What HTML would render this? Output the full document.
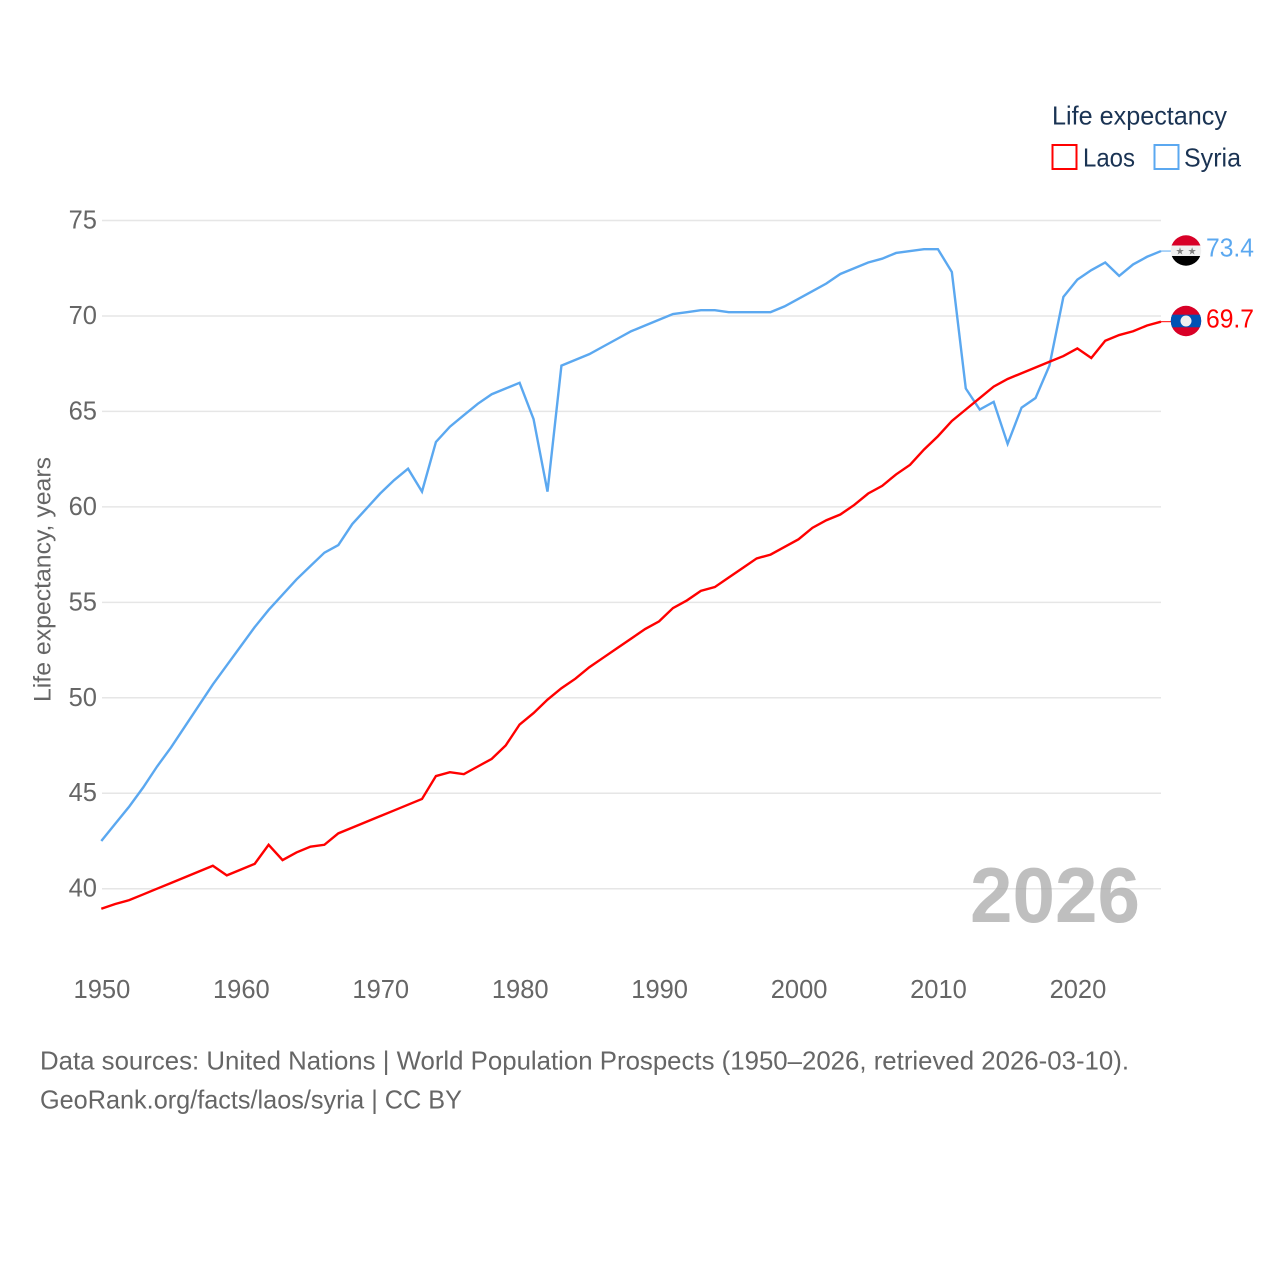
<!DOCTYPE html>
<html lang="en">
<head>
<meta charset="utf-8">
<title>Life expectancy: Laos and Syria</title>
<style>
html,body{margin:0;padding:0;background:#fff;width:1280px;height:1280px;overflow:hidden}
svg{display:block}
text{font-family:"Liberation Sans",sans-serif;fill:#666}
</style>
</head>
<body>
<svg id="chart" xmlns="http://www.w3.org/2000/svg" width="1280" height="1280" viewBox="0 0 1280 1280">
  <defs>
    <clipPath id="syria-clip"><circle cx="1186" cy="250.5" r="15.2"/></clipPath>
    <clipPath id="laos-clip"><circle cx="1186" cy="321" r="15.2"/></clipPath>
  </defs>
  <g id="grid"></g>
  <g id="yticks"></g>
  <g id="xticks"></g>
  <text x="970" y="922" font-size="78" font-weight="bold" textLength="170" lengthAdjust="spacingAndGlyphs" style="fill:#a6a6a6;fill-opacity:.72">2026</text>
  <g id="series"></g>

  <text transform="translate(50.5,702) rotate(-90)" font-size="24.5" textLength="245" lengthAdjust="spacingAndGlyphs">Life expectancy, years</text>

  <g>
    <text x="1052" y="124.5" font-size="26" textLength="175" lengthAdjust="spacingAndGlyphs" style="fill:#1a3353">Life expectancy</text>
    <g>
      <rect x="1052.5" y="145" width="24" height="24" fill="none" stroke="#ff0000" stroke-width="2"/>
      <text x="1083" y="166.5" font-size="26" textLength="52" lengthAdjust="spacingAndGlyphs" style="fill:#1a3353">Laos</text>
    </g>
    <g>
      <rect x="1154.5" y="145" width="24" height="24" fill="none" stroke="#5ba8f0" stroke-width="2"/>
      <text x="1184" y="166.5" font-size="26" textLength="57" lengthAdjust="spacingAndGlyphs" style="fill:#1a3353">Syria</text>
    </g>
  </g>

  <g clip-path="url(#syria-clip)">
    <rect x="1170" y="235" width="32" height="11" fill="#d80027"/>
    <rect x="1170" y="245.5" width="32" height="10.5" fill="#f0f0f0"/>
    <rect x="1170" y="256" width="32" height="11" fill="#000000"/>
    <text x="1186" y="254.5" font-size="10" text-anchor="middle" style="fill:#808080;font-family:'DejaVu Sans',sans-serif">★ ★</text>
  </g>
  <g clip-path="url(#laos-clip)">
    <rect x="1170" y="305" width="32" height="32" fill="#d80027"/>
    <rect x="1170" y="314.7" width="32" height="12.6" fill="#0052b4"/>
    <circle cx="1186" cy="321" r="5.5" fill="#f0f0f0"/>
  </g>
  <text x="1206" y="256.5" font-size="26" textLength="48" lengthAdjust="spacingAndGlyphs" style="fill:#5ba8f0">73.4</text>
  <text x="1206" y="327.5" font-size="26" textLength="48" lengthAdjust="spacingAndGlyphs" style="fill:#ff0000">69.7</text>

  <text x="40" y="1069.5" font-size="26" textLength="1089" lengthAdjust="spacingAndGlyphs">Data sources: United Nations | World Population Prospects (1950–2026, retrieved 2026-03-10).</text>
  <text x="40" y="1108.5" font-size="26" textLength="422" lengthAdjust="spacingAndGlyphs">GeoRank.org/facts/laos/syria | CC BY</text>
</svg>
<script>
const startYear = 1950;
const xTickYears = [1950, 1960, 1970, 1980, 1990, 2000, 2010, 2020];
const yTickValues = [40, 45, 50, 55, 60, 65, 70, 75];
const laosValues = [
  38.95, 39.2, 39.4, 39.7, 40.0, 40.3, 40.6, 40.9, 41.2, 40.7,
  41.0, 41.3, 42.3, 41.5, 41.9, 42.2, 42.3, 42.9, 43.2, 43.5,
  43.8, 44.1, 44.4, 44.7, 45.9, 46.1, 46.0, 46.4, 46.8, 47.5,
  48.6, 49.2, 49.9, 50.5, 51.0, 51.6, 52.1, 52.6, 53.1, 53.6,
  54.0, 54.7, 55.1, 55.6, 55.8, 56.3, 56.8, 57.3, 57.5, 57.9,
  58.3, 58.9, 59.3, 59.6, 60.1, 60.7, 61.1, 61.7, 62.2, 63.0,
  63.7, 64.5, 65.1, 65.7, 66.3, 66.7, 67.0, 67.3, 67.6, 67.9,
  68.3, 67.8, 68.7, 69.0, 69.2, 69.5, 69.7
];
const syriaValues = [
  42.5, 43.4, 44.3, 45.3, 46.4, 47.4, 48.5, 49.6, 50.7, 51.7,
  52.7, 53.7, 54.6, 55.4, 56.2, 56.9, 57.6, 58.0, 59.1, 59.9,
  60.7, 61.4, 62.0, 60.8, 63.4, 64.2, 64.8, 65.4, 65.9, 66.2,
  66.5, 64.6, 60.8, 67.4, 67.7, 68.0, 68.4, 68.8, 69.2, 69.5,
  69.8, 70.1, 70.2, 70.3, 70.3, 70.2, 70.2, 70.2, 70.2, 70.5,
  70.9, 71.3, 71.7, 72.2, 72.5, 72.8, 73.0, 73.3, 73.4, 73.5,
  73.5, 72.3, 66.2, 65.1, 65.5, 63.3, 65.2, 65.7, 67.4, 71.0,
  71.9, 72.4, 72.8, 72.1, 72.7, 73.1, 73.4
];

const NS = 'http://www.w3.org/2000/svg';
function xScale(year) { return 101.3 + (year - 1950) * (1161 - 101.3) / 76; }
function yScale(value) { return 888.7 - (value - 40) * (888.7 - 220.5) / 35; }
function make(tag, parent) {
  const el = document.createElementNS(NS, tag);
  parent.appendChild(el);
  return el;
}

const grid = document.getElementById('grid');
const yticks = document.getElementById('yticks');
const xticks = document.getElementById('xticks');
const seriesGroup = document.getElementById('series');

yTickValues.forEach(function (v) {
  const line = make('line', grid);
  
  
  line.setAttribute('x1', 102);
  line.setAttribute('x2', 1161);
  line.setAttribute('y1', yScale(v));
  line.setAttribute('y2', yScale(v));
  line.setAttribute('stroke', '#e6e6e6');
  line.setAttribute('stroke-width', '1.5');

  const label = make('text', yticks);
  
  
  label.setAttribute('x', 97);
  label.setAttribute('y', yScale(v) + 8);
  label.setAttribute('text-anchor', 'end');
  label.setAttribute('font-size', '25.5');
  label.textContent = String(v);
});

xTickYears.forEach(function (y) {
  const label = make('text', xticks);
  
  
  label.setAttribute('x', xScale(y) + 0.6);
  label.setAttribute('y', 998);
  label.setAttribute('text-anchor', 'middle');
  label.setAttribute('font-size', '25.5');
  label.textContent = String(y);
});

function buildPath(values) {
  return values.map(function (v, i) {
    return (i ? 'L' : 'M') + xScale(startYear + i).toFixed(2) + ' ' + yScale(v).toFixed(2);
  }).join(' ');
}

const syriaLine = make('path', seriesGroup);


syriaLine.setAttribute('d', buildPath(syriaValues));
syriaLine.setAttribute('fill', 'none');
syriaLine.setAttribute('stroke', '#5ba8f0');
syriaLine.setAttribute('stroke-width', '2.4');

const laosLine = make('path', seriesGroup);


laosLine.setAttribute('d', buildPath(laosValues));
laosLine.setAttribute('fill', 'none');
laosLine.setAttribute('stroke', '#ff0000');
laosLine.setAttribute('stroke-width', '2.4');

const syriaLead = make('line', seriesGroup);


syriaLead.setAttribute('x1', xScale(2026));
syriaLead.setAttribute('x2', 1172);
syriaLead.setAttribute('y1', yScale(syriaValues[syriaValues.length - 1]));
syriaLead.setAttribute('y2', yScale(syriaValues[syriaValues.length - 1]));
syriaLead.setAttribute('stroke', '#5ba8f0');
syriaLead.setAttribute('stroke-width', '1');

const laosLead = make('line', seriesGroup);


laosLead.setAttribute('x1', xScale(2026));
laosLead.setAttribute('x2', 1172);
laosLead.setAttribute('y1', yScale(laosValues[laosValues.length - 1]));
laosLead.setAttribute('y2', yScale(laosValues[laosValues.length - 1]));
laosLead.setAttribute('stroke', '#ff0000');
laosLead.setAttribute('stroke-width', '1');
</script>
</body>
</html>
